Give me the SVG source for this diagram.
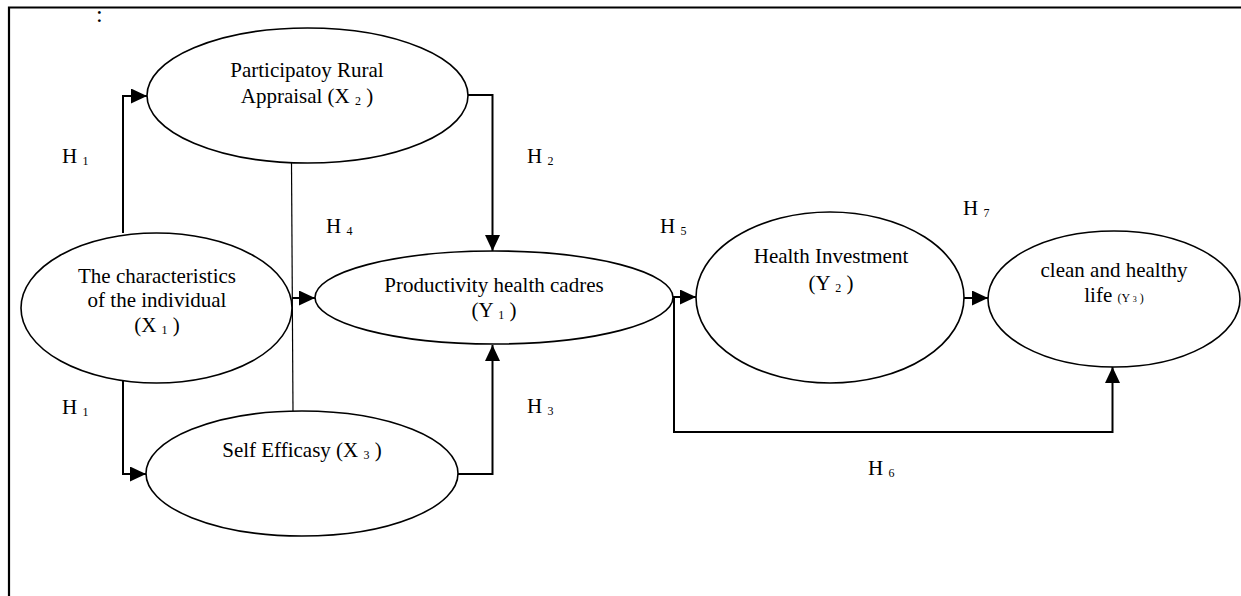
<svg xmlns="http://www.w3.org/2000/svg" width="1241" height="596" viewBox="0 0 1241 596">
<style>
  text { font-family: "Liberation Serif", "Times New Roman", serif; fill: #000; }
  .t { font-size: 21px; text-anchor: middle; }
  .lbl { font-size: 21px; }
  .sub { font-size: 12px; }
  .node ellipse { fill: #fff; stroke: #000; stroke-width: 1.6; }
  .conn path { fill: none; stroke: #000; stroke-width: 2; }
  .conn path.thin { stroke-width: 1.2; }
</style>
<defs>
  <marker id="arr" markerUnits="userSpaceOnUse" markerWidth="17" markerHeight="16" refX="16" refY="7.5" orient="auto">
    <path d="M0,0 L16,7.5 L0,15 z" fill="#000"/>
  </marker>
</defs>
<rect x="0" y="0" width="1241" height="596" fill="#fff"/>
<g id="frame">
  <path d="M9,596 V7.5 H1241" fill="none" stroke="#000" stroke-width="2.2"/>
  <text x="96" y="22" style="font-size:24px">:</text>
</g>
<g id="connectors" class="conn">
  <path d="M123,233 V96 H147" marker-end="url(#arr)"/>
  <path d="M123,344 V474 H146" marker-end="url(#arr)"/>
  <path d="M468,95 H492.5 V251" marker-end="url(#arr)"/>
  <path d="M458,474 H492.5 V345" marker-end="url(#arr)"/>
  <path d="M292,298 H315" marker-end="url(#arr)"/>
  <path d="M673,297 H696" marker-end="url(#arr)"/>
  <path d="M964,298 H988" marker-end="url(#arr)"/>
  <path d="M674,297 V432 H1112.5 V367" marker-end="url(#arr)"/>
  <path class="thin" d="M291.5,163 L293,411"/>
</g>
<g id="node-x2" class="node">
  <ellipse cx="307.5" cy="95.5" rx="160.5" ry="67.5"/>
  <text class="t" x="307" y="77">Participatoy Rural</text>
  <text class="t" x="307" y="103">Appraisal (X <tspan class="sub" dy="2">2</tspan><tspan dy="-2"> )</tspan></text>
</g>
<g id="node-x1" class="node">
  <ellipse cx="156.5" cy="308" rx="135.5" ry="75"/>
  <text class="t" x="157" y="283">The characteristics</text>
  <text class="t" x="157" y="307">of the individual</text>
  <text class="t" x="157" y="332">(X <tspan class="sub" dy="2">1</tspan><tspan dy="-2"> )</tspan></text>
</g>
<g id="node-y1" class="node">
  <ellipse cx="494" cy="297.5" rx="179" ry="46.5"/>
  <text class="t" x="494" y="292">Productivity health cadres</text>
  <text class="t" x="494" y="317">(Y <tspan class="sub" dy="2">1</tspan><tspan dy="-2"> )</tspan></text>
</g>
<g id="node-x3" class="node">
  <ellipse cx="302" cy="473.5" rx="156" ry="62.5"/>
  <text class="t" x="302" y="457">Self Efficasy (X <tspan class="sub" dy="2">3</tspan><tspan dy="-2"> )</tspan></text>
</g>
<g id="node-y2" class="node">
  <ellipse cx="830" cy="297.5" rx="134" ry="85.5"/>
  <text class="t" x="831" y="263">Health Investment</text>
  <text class="t" x="831" y="290">(Y <tspan class="sub" dy="2">2</tspan><tspan dy="-2"> )</tspan></text>
</g>
<g id="node-y3" class="node">
  <ellipse cx="1114" cy="299" rx="126" ry="68"/>
  <text class="t" x="1114" y="277">clean and healthy</text>
  <text class="t" x="1114" y="302">life <tspan style="font-size:12px">(Y <tspan style="font-size:8px">3</tspan> )</tspan></text>
</g>
<g id="labels">
  <text class="lbl" x="62" y="163">H <tspan class="sub" dy="2">1</tspan></text>
  <text class="lbl" x="62" y="414">H <tspan class="sub" dy="2">1</tspan></text>
  <text class="lbl" x="527" y="163">H <tspan class="sub" dy="2">2</tspan></text>
  <text class="lbl" x="527" y="413">H <tspan class="sub" dy="2">3</tspan></text>
  <text class="lbl" x="326" y="233">H <tspan class="sub" dy="2">4</tspan></text>
  <text class="lbl" x="660" y="233">H <tspan class="sub" dy="2">5</tspan></text>
  <text class="lbl" x="868" y="475">H <tspan class="sub" dy="2">6</tspan></text>
  <text class="lbl" x="963" y="215">H <tspan class="sub" dy="2">7</tspan></text>
</g>
</svg>
